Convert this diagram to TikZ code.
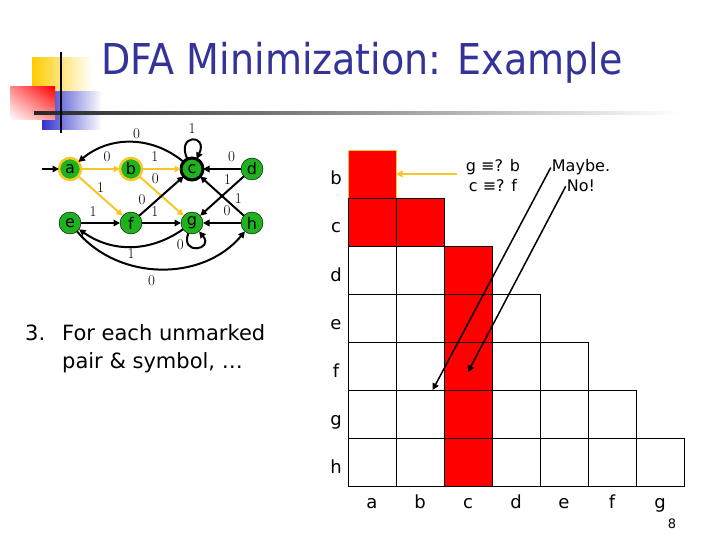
\documentclass[tikz,border=0pt]{standalone}
\usepackage{fontspec}
\usepackage{graphicx}
\newfontfamily\slidefont{DejaVu Sans}
\usetikzlibrary{arrows.meta, shadings}

\definecolor{titleblue}{RGB}{51,51,153}
\definecolor{stategreen}{RGB}{30,178,30}
\definecolor{ringyellow}{RGB}{245,200,40}
\definecolor{markred}{RGB}{255,0,0}
\definecolor{logoyellow}{RGB}{255,204,0}
\definecolor{logoblue}{RGB}{51,51,204}

\begin{document}
\begin{tikzpicture}[
    x = 1pt,
    y = -1pt,
    >={Triangle[length=6.5pt,width=6.5pt]},
    state/.style = {circle, draw=black, fill=stategreen, minimum size=22pt,
              inner sep=0pt, outer sep=0pt, font=\slidefont\fontsize{16}{16}\selectfont},
    marked/.style = {state, draw=ringyellow, line width=2.5pt},
    final/.style = {state, line width=3pt},
    trans/.style = {->, black, line width=2pt},
    hilite/.style = {trans, ringyellow},
    lbl/.style = {text=black, font=\fontsize{15}{15}\selectfont, inner sep=1pt},
    cell/.style = {rectangle, draw=black, fill=white, minimum size=48pt,
              inner sep=0pt, outer sep=0pt},
    redcell/.style = {cell, fill=markred},
    axis/.style = {anchor=base, inner sep=0pt, font=\slidefont\fontsize{18}{18}\selectfont},
    note/.style = {anchor=base, inner sep=1pt, font=\slidefont\fontsize{16}{16}\selectfont},
    body/.style = {anchor=base west, inner sep=0pt, font=\slidefont\fontsize{21}{21}\selectfont},
    ]

\useasboundingbox [fill=white] (0,0) rectangle (720,540);

% logo and title
\shade [left color=logoyellow, middle color=logoyellow!85, right color=white] (32,58) rectangle (92,92);
\shade [left color=logoblue, middle color=logoblue!80, right color=white] (42,92) rectangle (102,130);
\shade [upper left=markred!45, upper right=markred, lower left=white, lower right=markred!40] (10,87) rectangle (55,120);
\shade [left color=black!85, middle color=black!35, right color=white] (34,112) rectangle (680,115);
\draw [black, line width=2pt] (61,52) -- (61,133);
\node [anchor=base west, inner sep=0pt, text=titleblue,
       font=\slidefont\fontsize{42.5}{42.5}\selectfont] (title) at (101,74.5)
      {\scalebox{0.895}[1]{DFA Minimization: Example}};

% automaton
\node[marked] (state_a) at (70,169) {a};
\node[marked] (state_b) at (131,169) {b};
\node[final] (state_c) at (192,169) {c};
\node[state] (state_d) at (252,169) {d};
\node[state] (state_e) at (70,223) {e};
\node[state] (state_f) at (131,223) {f};
\node[state] (state_g) at (192,223) {g};
\node[state] (state_h) at (252,223) {h};
\coordinate (start) at (42,169);

\draw [trans] (start) -- (state_a);
\draw [hilite] (state_a) to node [lbl, pos=0.67, above=5pt]{0} (state_b);
\draw [hilite] (state_b) to node [lbl, pos=0.33, above=5pt]{1} (state_c);
\draw [hilite] (state_a) to node [lbl, pos=0.5, above=1pt]{1} (state_f);
\draw [hilite] (state_b) to node [lbl, pos=0.24, above right=0pt]{0} (state_g);
\draw [trans] (state_d) to node [lbl, pos=0.25, above=5pt]{0} (state_c);
\draw [trans] (state_e) to node [lbl, pos=0.31, above=5pt]{1} (state_f);
\draw [trans] (state_f) to node [lbl, pos=0.33, above=5pt]{1} (state_g);
\draw [trans] (state_h) to node [lbl, pos=0.37, above=5pt]{0} (state_g);
\draw [trans] (state_f) to node [lbl, pos=0.21, above left=1pt]{0} (state_c);
\draw [trans] (state_d) to node [lbl, pos=0.25, above left=0pt]{1} (state_g);
\draw [trans] (state_h) to node [lbl, pos=0.25, above right=0pt]{1} (state_c);
\draw [trans] (state_c) to [bend right=40] node [lbl, pos=0.45, above=2pt]{0} (state_a);
\draw [trans] (state_c) to [out=115, in=65, min distance=28pt, looseness=1] node [lbl, above=4pt]{1} (state_c);
\draw [trans] (state_g) to [bend left=35] node [lbl, pos=0.5, below=0pt]{1} (state_e);
\draw [trans] (state_g) to [out=-110, in=-50, min distance=24pt, looseness=1] node [lbl, pos=0.25, left=3pt]{0} (state_g);
\draw [trans] (state_e) to [bend right=50] node [lbl, pos=0.45, below=5pt]{0} (state_h);

% step text
\node[body] (step_num) at (25,340) {3.};
\node[body] (step_line_1) at (62,340) {For each unmarked};
\node[body] (step_line_2) at (62,368) {pair \& symbol, …};

% table
\node[redcell, draw=ringyellow] (cell_b_a) at (372,174){};
\node[redcell] (cell_c_a) at (372,222){};
\node[redcell] (cell_c_b) at (420,222){};
\node[cell] (cell_d_a) at (372,270){};
\node[cell] (cell_d_b) at (420,270){};
\node[redcell] (cell_d_c) at (468,270){};
\node[cell] (cell_e_a) at (372,318){};
\node[cell] (cell_e_b) at (420,318){};
\node[redcell] (cell_e_c) at (468,318){};
\node[cell] (cell_e_d) at (516,318){};
\node[cell] (cell_f_a) at (372,366){};
\node[cell] (cell_f_b) at (420,366){};
\node[redcell] (cell_f_c) at (468,366){};
\node[cell] (cell_f_d) at (516,366){};
\node[cell] (cell_f_e) at (564,366){};
\node[cell] (cell_g_a) at (372,414){};
\node[cell] (cell_g_b) at (420,414){};
\node[redcell] (cell_g_c) at (468,414){};
\node[cell] (cell_g_d) at (516,414){};
\node[cell] (cell_g_e) at (564,414){};
\node[cell] (cell_g_f) at (612,414){};
\node[cell] (cell_h_a) at (372,462){};
\node[cell] (cell_h_b) at (420,462){};
\node[redcell] (cell_h_c) at (468,462){};
\node[cell] (cell_h_d) at (516,462){};
\node[cell] (cell_h_e) at (564,462){};
\node[cell] (cell_h_f) at (612,462){};
\node[cell] (cell_h_g) at (660,462){};

\node[axis] (row_b) at (336,185) {b};
\node[axis] (row_c) at (336,233) {c};
\node[axis] (row_d) at (336,281) {d};
\node[axis] (row_e) at (336,329) {e};
\node[axis] (row_f) at (336,377) {f};
\node[axis] (row_g) at (336,425) {g};
\node[axis] (row_h) at (336,473) {h};
\node[axis] (col_a) at (372,508) {a};
\node[axis] (col_b) at (420,508) {b};
\node[axis] (col_c) at (468,508) {c};
\node[axis] (col_d) at (516,508) {d};
\node[axis] (col_e) at (564,508) {e};
\node[axis] (col_f) at (612,508) {f};
\node[axis] (col_g) at (660,508) {g};
\node[anchor=base, inner sep=0pt, font=\slidefont\fontsize{13}{13}\selectfont] (page_num) at (672,528) {8};

% questions and answers
\node[note] (query_1) at (493,172) {g ≡? b};
\node[note] (query_2) at (493,192) {c ≡? f};
\node[note] (maybe_txt) at (581,172) {Maybe.};
\node[note] (no_txt) at (581,192) {No!};
\draw [->, ringyellow, line width=2pt] ([xshift=-8pt]query_1.west |- cell_b_a.east) -- (cell_b_a.east);
\draw [->, black, line width=1.5pt] (maybe_txt.west) -- (cell_g_b);
\draw [->, black, line width=1.5pt] (no_txt.west) -- ([yshift=-6pt]cell_f_c.center);

\end{tikzpicture}
\end{document}
